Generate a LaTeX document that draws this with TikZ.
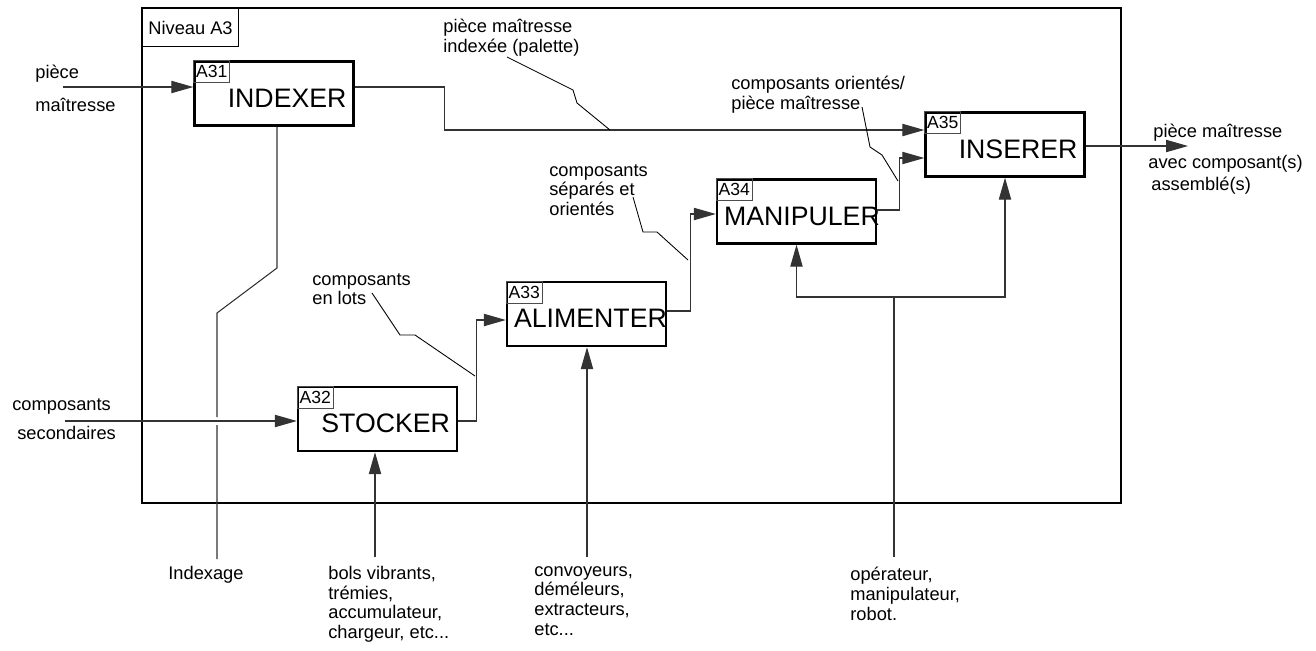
\documentclass[tikz,border=0pt]{standalone}
\usepackage{fontspec}
\setmainfont{Liberation Sans}
\usetikzlibrary{arrows.meta}
\uchyph=0

\begin{document}
\begin{tikzpicture}[x=0.02cm, y=-0.02cm, every node/.style={align=center},
    fonction/.style={draw, line width=1.4pt, minimum width=3.18cm, minimum height=1.28cm,
        text width=2.9cm, inner xsep=0.14cm, align=right, text height=0.55cm, text depth=0cm,
        font=\fontsize{15.2}{18}\selectfont},
    numero/.style={draw=black!70, line width=0.4pt, anchor=north west, inner xsep=1.4pt,
        inner ysep=0pt, minimum height=0.44cm, font=\fontsize{10}{12}\selectfont},
    etiq/.style={anchor=north west, align=left, inner sep=0pt, font=\fontsize{10.4}{11.2}\selectfont},
    lien/.style={black!80, line width=0.6pt},
    fleche/.style={lien, -{Triangle[length=12.5pt, width=7pt]}},
    renvoi/.style={line width=0.5pt}]
    \useasboundingbox (0,0) rectangle (1316,650);

    \draw[line width=1.4pt] (142,8) rectangle (1121,503);
    \node[draw, line width=0.6pt, anchor=north west, minimum width=1.86cm, minimum height=0.76cm,
        font=\fontsize{10.4}{12}\selectfont] (niveau) at (142,8) {Niveau A3};

    \node[fonction] (indexer) at (274,93.5) {INDEXER};
    \node[fonction] (stocker) at (377.5,419) {STOCKER};
    \node[fonction] (alimenter) at (586.5,314) {ALIMENTER};
    \node[fonction] (manipuler) at (796.5,211.5) {MANIPULER};
    \node[fonction] (inserer) at (1005,144.5) {INSERER};
    \node[numero] (n31) at (indexer.north west) {A31};
    \node[numero] (n32) at (stocker.north west) {A32};
    \node[numero] (n33) at (alimenter.north west) {A33};
    \node[numero] (n34) at (manipuler.north west) {A34};
    \node[numero] (n35) at (inserer.north west) {A35};

    \coordinate (e1) at (63,87);
    \coordinate (e2) at (65,421);
    \coordinate (s1) at (1188,146);
    \coordinate (m1) at (217,559);
    \coordinate (m2) at (375,557);
    \coordinate (m3) at (587,557);
    \coordinate (m4) at (894,557);
    \coordinate (j4) at (894,297);

    \draw[fleche] (e1) -- (e1 -| indexer.west);
    \draw[fleche] (e2) -- (e2 -| stocker.west);
    \draw[fleche] (indexer.east |- e1) -- ++(90,0) |- ([yshift=0.29cm]inserer.west);
    \draw[fleche] (stocker.east |- e2) -- ++(18,0) |- ([yshift=-0.12cm]alimenter.west);
    \draw[fleche] ([yshift=0.06cm]alimenter.east) -- ++(23,0) |- ([yshift=-0.05cm]manipuler.west);
    \draw[fleche] ([yshift=0.03cm]manipuler.east) -- ++(22,0) |- ([yshift=-0.27cm]inserer.west);
    \draw[fleche] (inserer.east |- s1) -- (s1);
    \draw[fleche] (m2) -- (m2 |- stocker.south);
    \draw[fleche] (m3) -- (m3 |- alimenter.south);
    \draw[lien] (m4) -- (j4);
    \draw[fleche] (j4) -| (manipuler.south);
    \draw[fleche] (j4) -| (inserer.south);
    \draw[lien] (m1) -- ++(0,-134) (m1) ++(0,-142) -- ++(0,-104) -- ++(60,-45) -- ([xshift=0.06cm]indexer.south);

    \coordinate (r1) at (507,57);
    \coordinate (r2) at (862,107);
    \coordinate (r3) at (633,197);
    \coordinate (r4) at (372,293);
    \draw[renvoi] (r1) -- ++(66,33) -- ++(4,13) -- ++(33,27);
    \draw[renvoi] (r2) -- ++(8,40) -- ++(12,8) -- ++(16,26);
    \draw[renvoi] (r3) -- ++(10,35) -- ++(14,0) -- ++(31,28);
    \draw[renvoi] (r4) -- ++(28,42) -- ++(15,0) -- ++(60,41);

    \node[etiq] (tPiece) at (35,65) {pièce\\[0.26cm]maîtresse};
    \node[etiq] (tComposants) at (12,398) {composants\\[0.2cm]\hspace{0.1cm}secondaires};
    \node[etiq] (tIndexee) at (443,19) {pièce maîtresse\\indexée (palette)};
    \node[etiq] (tOrientes) at (731,76) {composants orientés/\\pièce maîtresse};
    \node[etiq] (tSepares) at (549,164) {composants\\séparés et\\orientés};
    \node[etiq] (tLots) at (312,273) {composants\\en lots};
    \node[etiq] (tSortie) at (1148,124) {\hspace{0.1cm}pièce maîtresse\\[0.22cm]avec composant(s)\\[0.04cm]\hspace{0.06cm}assemblé(s)};
    \node[etiq] (tIndexage) at (168,566) {Indexage};
    \node[etiq] (tBols) at (328,566) {bols vibrants,\\trémies,\\accumulateur,\\chargeur, etc...};
    \node[etiq] (tConvoyeurs) at (534,566) {convoyeurs,\\déméleurs,\\extracteurs,\\etc...};
    \node[etiq] (tOperateur) at (850,567) {opérateur,\\manipulateur,\\robot.};
\end{tikzpicture}
\end{document}
